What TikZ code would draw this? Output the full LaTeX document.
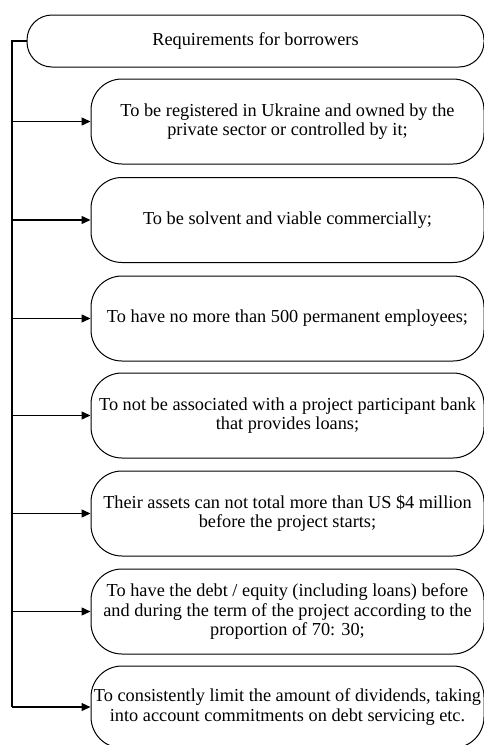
\documentclass[tikz,border=0pt]{standalone}
\usepackage{fontspec}
\setmainfont{Liberation Serif}
\usetikzlibrary{arrows.meta}
\begin{document}
\begin{tikzpicture}[x=1pt,y=-1pt,
  reqbox/.style={draw, line width=1pt, rounded corners=31pt, minimum width=393pt,
    minimum height=85pt, inner sep=0pt, align=center,
    font=\fontsize{18.3}{19.5}\selectfont},
  topbox/.style={draw, line width=1pt, rounded corners=25pt, minimum width=457pt,
    minimum height=52pt, inner sep=0pt, align=center,
    font=\fontsize{18.3}{19.5}\selectfont},
  rail/.style={line width=2pt},
  arr/.style={line width=1.4pt, -{Triangle[length=9pt,width=8pt]}}]
\useasboundingbox (0,0) rectangle (483,745);
\node[topbox] (top) at (255.5,41) {Requirements for borrowers};
\node[reqbox] (b1) at (287.5,121.5) {To be registered in Ukraine and owned by the\\private sector or controlled by it;};
\node[reqbox] (b2) at (287.5,220) {To be solvent and viable commercially;};
\node[reqbox] (b3) at (287.5,318.5) {To have no more than 500 permanent employees;};
\node[reqbox] (b4) at (287.5,415.5) {To not be associated with a project participant bank\\that provides loans;};
\node[reqbox] (b5) at (287.5,513.5) {Their assets can not total more than US \$4 million\\before the project starts;};
\node[reqbox] (b6) at (287.5,611.5) {To have the debt / equity (including loans) before\\and during the term of the project according to the\\proportion of 70: 30;};
\node[reqbox, minimum height=82pt] (b7) at (287.5,707) {To consistently limit the amount of dividends, taking\\into account commitments on debt servicing etc.};
\coordinate (r) at (12,41);
\draw[rail] (top.west) -- (r) -- (r |- b7.west);
\foreach \b in {b1,b2,b3,b4,b5,b6,b7}
  \draw[arr] (r |- \b.west) -- (\b.west);
\end{tikzpicture}
\end{document}
